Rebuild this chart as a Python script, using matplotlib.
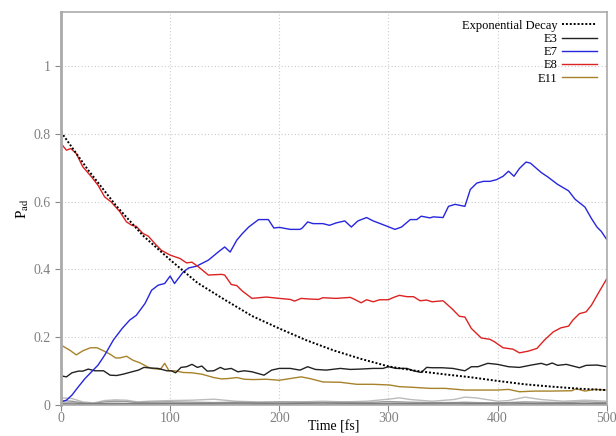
import matplotlib
matplotlib.use("Agg")
import matplotlib.pyplot as plt

plt.rcParams['font.family'] = ['Liberation Serif', 'DejaVu Serif']
plt.rcParams['mathtext.fontset'] = 'stix'

# exponential decay reference curve
exp_t = [0, 25, 50, 75, 100, 125, 150, 175, 200, 225, 250, 275, 300, 325, 350, 375, 400, 425, 450, 475, 500]
exp_v = [0.806, 0.693, 0.59, 0.50, 0.428, 0.36, 0.31, 0.262, 0.225, 0.19, 0.16, 0.135, 0.113,
         0.100, 0.090, 0.081, 0.070, 0.060, 0.053, 0.047, 0.043]

# E3
e3_t = [0, 5, 10, 16, 20, 25, 31, 39, 45, 51, 57, 65, 71, 76, 83, 89, 97, 101, 105, 110,
        115, 120, 125, 129, 134, 140, 146, 150, 156, 162, 168, 175, 186, 193, 200, 210, 219, 226, 233, 243,
        256, 265, 274, 286, 295, 300, 307, 317, 323, 330, 335, 340, 349, 359, 370, 376, 382, 391, 400, 410,
        420, 431, 440, 445, 450, 455, 463, 475, 481, 491, 500]
e3_v = [0.085, 0.082, 0.094, 0.099, 0.099, 0.105, 0.100, 0.100, 0.087, 0.086, 0.090, 0.097, 0.102, 0.110, 0.108,
        0.107, 0.100, 0.100, 0.094, 0.110, 0.112, 0.119, 0.110, 0.114, 0.099, 0.100, 0.110, 0.104, 0.107, 0.097,
        0.100, 0.097, 0.087, 0.102, 0.107, 0.107, 0.102, 0.112, 0.104, 0.102, 0.107, 0.104, 0.105, 0.107, 0.107,
        0.112, 0.107, 0.107, 0.100, 0.095, 0.110, 0.109, 0.109, 0.107, 0.100, 0.112, 0.112, 0.122, 0.119, 0.112,
        0.110, 0.117, 0.122, 0.117, 0.123, 0.116, 0.119, 0.109, 0.116, 0.117, 0.112]

# E7
e7_t = [0, 5, 10, 16, 22, 28, 34, 40, 48, 56, 63, 69, 77, 83, 89, 95, 100, 104, 112, 117,
        124, 135, 144, 150, 155, 161, 166, 172, 181, 190, 195, 200, 210, 219, 221, 226, 231, 240, 246, 252,
        260, 266, 272, 280, 286, 295, 306, 312, 320, 326, 330, 338, 341, 350, 355, 361, 370, 375, 381, 387,
        393, 399, 405, 410, 415, 420, 426, 430, 440, 446, 455, 465, 471, 480, 486, 491, 495, 500]
e7_v = [0.008, 0.013, 0.028, 0.053, 0.077, 0.097, 0.117, 0.146, 0.191, 0.225, 0.250, 0.264, 0.299, 0.338, 0.353,
        0.358, 0.380, 0.358, 0.392, 0.404, 0.409, 0.427, 0.451, 0.466, 0.451, 0.486, 0.505, 0.525, 0.547, 0.547,
        0.522, 0.524, 0.518, 0.518, 0.522, 0.540, 0.535, 0.535, 0.530, 0.537, 0.543, 0.525, 0.543, 0.553, 0.543,
        0.532, 0.518, 0.525, 0.547, 0.547, 0.557, 0.552, 0.555, 0.553, 0.586, 0.592, 0.586, 0.636, 0.655, 0.660,
        0.660, 0.665, 0.675, 0.690, 0.675, 0.698, 0.717, 0.714, 0.686, 0.673, 0.651, 0.632, 0.607, 0.584, 0.550,
        0.525, 0.512, 0.488]

# E8
e8_t = [0, 5, 9, 14, 20, 28, 34, 40, 46, 54, 60, 65, 69, 75, 80, 86, 92, 100, 109, 115,
        120, 126, 135, 147, 150, 156, 161, 166, 175, 188, 200, 210, 214, 220, 228, 236, 240, 252, 265, 269,
        275, 280, 286, 292, 300, 304, 310, 317, 323, 329, 335, 340, 350, 358, 365, 370, 376, 385, 393, 397,
        405, 414, 420, 428, 436, 443, 451, 458, 465, 469, 475, 481, 486, 492, 500]
e8_v = [0.772, 0.752, 0.757, 0.742, 0.703, 0.673, 0.648, 0.614, 0.599, 0.570, 0.540, 0.530, 0.527, 0.506, 0.498,
        0.476, 0.456, 0.442, 0.432, 0.419, 0.421, 0.407, 0.383, 0.385, 0.383, 0.355, 0.352, 0.336, 0.314, 0.318,
        0.314, 0.311, 0.306, 0.314, 0.312, 0.311, 0.316, 0.314, 0.317, 0.311, 0.301, 0.310, 0.304, 0.310, 0.310,
        0.316, 0.323, 0.319, 0.319, 0.307, 0.309, 0.304, 0.307, 0.284, 0.261, 0.259, 0.225, 0.197, 0.193, 0.186,
        0.168, 0.164, 0.153, 0.158, 0.166, 0.191, 0.215, 0.227, 0.232, 0.250, 0.269, 0.274, 0.294, 0.328, 0.372]

# E11
e11_t = [0, 8, 14, 20, 27, 33, 39, 45, 50, 54, 60, 66, 72, 79, 83, 91, 95, 99, 104, 112,
         120, 129, 140, 147, 153, 161, 168, 176, 188, 200, 210, 220, 228, 240, 256, 271, 286, 301, 310, 323,
         338, 352, 370, 388, 400, 410, 420, 434, 449, 468, 472, 480, 489, 500]
e11_v = [0.176, 0.161, 0.147, 0.159, 0.168, 0.168, 0.159, 0.149, 0.138, 0.138, 0.143, 0.131, 0.124, 0.112, 0.107,
         0.104, 0.122, 0.100, 0.100, 0.095, 0.094, 0.090, 0.080, 0.076, 0.077, 0.080, 0.075, 0.074, 0.075, 0.072,
         0.077, 0.082, 0.077, 0.067, 0.066, 0.060, 0.060, 0.058, 0.053, 0.051, 0.048, 0.048, 0.043, 0.043, 0.043,
         0.045, 0.038, 0.040, 0.040, 0.041, 0.047, 0.040, 0.045, 0.043]

# remaining states (unlabelled, near zero)
rest_t = [0, 10, 20, 30, 40, 50, 60, 70, 80, 100, 120, 140, 160, 180, 200, 220, 240, 260, 280, 300,
          310, 320, 340, 360, 370, 380, 400, 410, 425, 440, 460, 480, 500]
rest_a = [0.020, 0.018, 0.008, 0.005, 0.012, 0.014, 0.013, 0.008, 0.010, 0.012, 0.013, 0.016, 0.010, 0.008, 0.007,
          0.008, 0.010, 0.008, 0.010, 0.016, 0.020, 0.015, 0.010, 0.015, 0.022, 0.020, 0.010, 0.012, 0.022, 0.015,
          0.010, 0.013, 0.010]
rest_b = [0.012, 0.010, 0.005, 0.004, 0.008, 0.010, 0.009, 0.006, 0.007, 0.008, 0.007, 0.006, 0.007, 0.006, 0.008,
          0.007, 0.006, 0.007, 0.006, 0.009, 0.008, 0.007, 0.006, 0.006, 0.007, 0.006, 0.005, 0.006, 0.008, 0.007,
          0.006, 0.008, 0.006]
rest_c = [0.004, 0.005, 0.003, 0.002, 0.003, 0.004, 0.003, 0.004, 0.003, 0.004, 0.003, 0.004, 0.005, 0.004, 0.003,
          0.004, 0.005, 0.004, 0.003, 0.004, 0.004, 0.003, 0.004, 0.005, 0.004, 0.003, 0.004, 0.005, 0.004, 0.003,
          0.004, 0.003, 0.004]
rest_d = [0.002, 0.001, 0.001, 0.002, 0.001, 0.001, 0.002, 0.001, 0.001, 0.002, 0.001, 0.001, 0.002, 0.001, 0.001,
          0.002, 0.001, 0.002, 0.001, 0.001, 0.002, 0.001, 0.001, 0.002, 0.001, 0.002, 0.001, 0.001, 0.002, 0.001,
          0.001, 0.002, 0.001]

fig = plt.figure(figsize=(6.16, 4.36), dpi=100)
ax = fig.add_axes([0.099, 0.072, 0.886, 0.9])

ax.plot(rest_t, rest_a, color='#bbbbbb', lw=1)
ax.plot(rest_t, rest_b, color='#999999', lw=1)
ax.plot(rest_t, rest_c, color='#888888', lw=1)
ax.plot(rest_t, rest_d, color='#777777', lw=1)

l11, = ax.plot(e11_t, e11_v, color='#a8822a', lw=1, label='E11')
l3, = ax.plot(e3_t, e3_v, color='#222222', lw=1, label='E3')
l7, = ax.plot(e7_t, e7_v, color='#2626dd', lw=1, label='E7')
l8, = ax.plot(e8_t, e8_v, color='#dd2222', lw=1, label='E8')
le, = ax.plot(exp_t, exp_v, color='black', lw=1.4, linestyle=(0, (1, 1)), label='Exponential Decay')

ax.set_xlim(0, 500)
ax.set_ylim(0, 1.16)
ax.set_xticks([0, 100, 200, 300, 400, 500])
ax.set_yticks([0, 0.2, 0.4, 0.6, 0.8, 1.0])
ax.set_yticklabels(['0', '0.2', '0.4', '0.6', '0.8', '1'])
ax.grid(True, color='#cccccc', linestyle=(0, (1, 2)), lw=0.8)
ax.tick_params(colors='#888888', labelcolor='#808080', labelsize=10, length=4, direction='out')
ax.tick_params(axis='x', pad=1)
for s in ax.spines.values():
    s.set_color('#aaaaaa')
    s.set_linewidth(1.2)
ax.spines['left'].set_linewidth(2)

ax.set_xlabel('Time [fs]', fontsize=10, labelpad=-3)
ax.set_ylabel(r'P$_{\mathrm{ad}}$', fontsize=11, labelpad=2)

ax.legend(handles=[le, l3, l7, l8, l11], loc='upper right', frameon=False, markerfirst=False,
          fontsize=9, labelspacing=0.1, handlelength=2.8, handletextpad=0.3,
          borderaxespad=0.2, bbox_to_anchor=(0.995, 1.0))

fig.savefig('out.png', dpi=100)
